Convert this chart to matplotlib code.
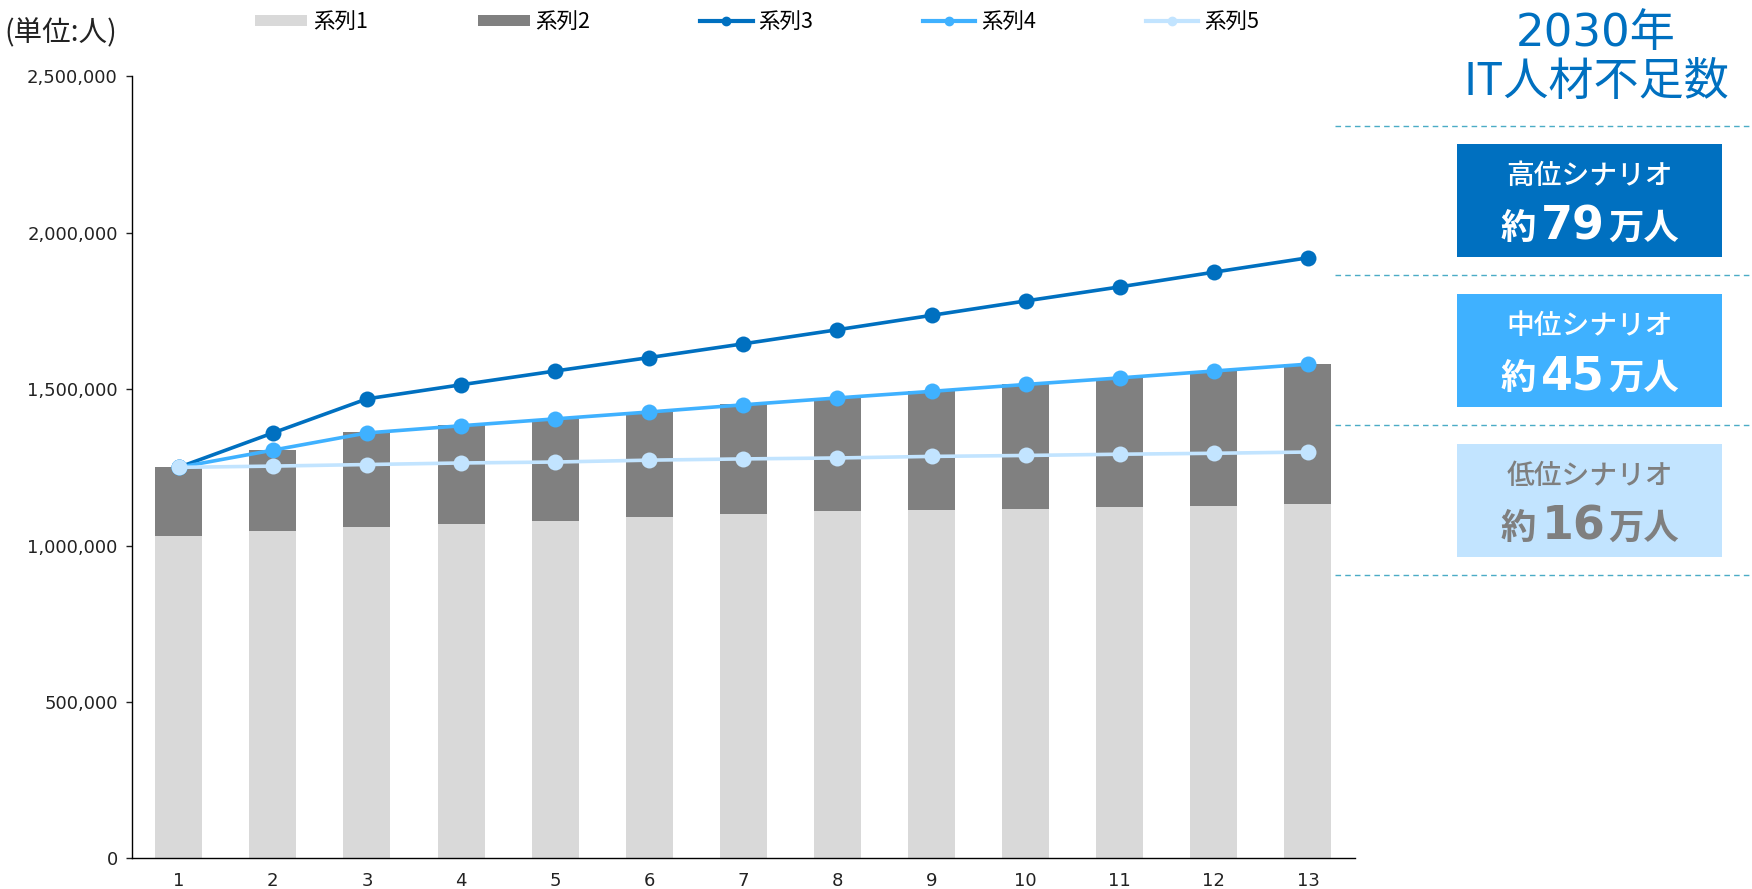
import matplotlib
matplotlib.use("Agg")
import matplotlib.pyplot as plt
from matplotlib.lines import Line2D
from matplotlib.patches import Patch, Rectangle
from matplotlib.ticker import FuncFormatter, MultipleLocator

# ---- data -------------------------------------------------------------
periods = list(range(1, 14))
series1 = [1030000, 1045000, 1060000, 1070000, 1080000, 1090000, 1100000,
           1110000, 1114000, 1117000, 1122000, 1127000, 1132000]
series2 = [220000, 260000, 302000, 314000, 325000, 337000, 352000,
           363000, 380000, 398000, 414000, 431000, 448000]
series3 = [1250000, 1360000, 1469000, 1514000, 1558000, 1601000, 1645000,
           1690000, 1736000, 1782000, 1827000, 1874000, 1920000]
series4 = [1250000, 1305000, 1360000, 1383000, 1405000, 1427000, 1450000,
           1472000, 1493000, 1515000, 1536000, 1558000, 1580000]
series5 = [1250000, 1254000, 1259000, 1264000, 1267000, 1273000, 1277000,
           1280000, 1285000, 1288000, 1292000, 1295000, 1299000]
series_names = ["系列1", "系列2", "系列3", "系列4", "系列5"]

scenario_names = ["高位シナリオ", "中位シナリオ", "低位シナリオ"]
scenario_shortage = [79, 45, 16]

# ---- styles -----------------------------------------------------------
C_BAR1 = "#D9D9D9"
C_BAR2 = "#808080"
C_HIGH = "#0070C0"
C_MID = "#3FB1FF"
C_LOW = "#C2E4FF"
JP = ["Noto Sans CJK JP", "DejaVu Sans"]
LATIN_JP = ["DejaVu Sans", "Noto Sans CJK JP"]

W, H = 1752, 889
fig = plt.figure(figsize=(W / 100, H / 100), dpi=100)
ax = fig.add_axes([131.7 / W, 1 - 858.3 / H, (1355 - 131.7) / W, (858.3 - 76.4) / H])

ax.bar(periods, series1, width=0.5, color=C_BAR1, zorder=1)
ax.bar(periods, series2, width=0.5, bottom=series1, color=C_BAR2, zorder=1)

line_kw = dict(lw=2.6, marker="o", markersize=11.5, markeredgewidth=0)
ax.plot(periods, series3, color=C_HIGH, zorder=3, **line_kw)
ax.plot(periods, series4, color=C_MID, zorder=4, **line_kw)
ax.plot(periods, series5, color=C_LOW, zorder=5, **line_kw)

ax.set_xlim(0.5, 13.5)
ax.set_ylim(0, 2500000)
ax.set_xticks(periods)
ax.yaxis.set_major_locator(MultipleLocator(500000))
ax.yaxis.set_major_formatter(FuncFormatter(lambda v, p: f"{int(v):,}"))
for s in ("top", "right"):
    ax.spines[s].set_visible(False)
for s in ("left", "bottom"):
    ax.spines[s].set_linewidth(1.0)
ax.tick_params(axis="y", length=4, width=1.0, pad=6, labelsize=13, colors="#222222")
ax.tick_params(axis="x", length=0, pad=10, labelsize=13, colors="#222222")
for lab in ax.get_xticklabels() + ax.get_yticklabels():
    lab.set_fontfamily("DejaVu Sans")

# ---- legend -----------------------------------------------------------
handles = [
    Patch(facecolor=C_BAR1, edgecolor="none"),
    Patch(facecolor=C_BAR2, edgecolor="none"),
    Line2D([], [], color=C_HIGH, lw=3, marker="o", markersize=6),
    Line2D([], [], color=C_MID, lw=3, marker="o", markersize=6),
    Line2D([], [], color=C_LOW, lw=3, marker="o", markersize=6),
]
fig.legend(handles, series_names, ncol=5, loc="center",
           bbox_to_anchor=(757 / W, 1 - 22 / H), frameon=False,
           prop={"family": JP, "size": 15.5}, handlelength=2.42,
           handleheight=0.43, handletextpad=0.28, columnspacing=5.1,
           borderaxespad=0, borderpad=0)

fig.text(4 / W, 1 - 33 / H, "(単位:人)", fontsize=20.5, family=JP,
         ha="left", va="center", color="#222222")

# ---- right-hand summary panel (pixel coordinates) --------------------
ov = fig.add_axes([0, 0, 1, 1], zorder=10)
ov.set_xlim(0, W)
ov.set_ylim(H, 0)
ov.axis("off")

ov.text(1596, 33, "2030年", fontsize=32.5, family=LATIN_JP, color=C_HIGH,
        ha="center", va="center")
ov.text(1596, 82, "IT人材不足数", fontsize=32.5, family=JP, color=C_HIGH,
        ha="center", va="center")

for yy in (126, 275, 425, 575):
    ov.plot([1335, W], [yy, yy], color="#4BACC6", lw=1.0,
            linestyle=(0, (4, 3)))

box_tops = [144, 294, 444]
box_fill = [C_HIGH, C_MID, C_LOW]
box_text = ["white", "white", "#7F7F7F"]
box_x0, box_x1, box_h = 1457, 1722, 113

fig.canvas.draw()
renderer = fig.canvas.get_renderer()


def centered_parts(cx, baseline, parts, color):
    """Place text pieces of mixed size on a shared baseline, centred on cx."""
    arts = []
    for s, size, fam in parts:
        t = ov.text(0, baseline, s, fontsize=size, family=fam, weight="bold",
                    color=color, ha="left", va="baseline")
        arts.append(t)
    widths = [a.get_window_extent(renderer).width for a in arts]
    gaps = [6, 3, 0]
    total = sum(widths) + sum(gaps)
    x = cx - total / 2
    for a, w, g in zip(arts, widths, gaps):
        a.set_x(x)
        x += w + g


for name, num, top, fc, tc in zip(scenario_names, scenario_shortage,
                                  box_tops, box_fill, box_text):
    ov.add_patch(Rectangle((box_x0, top), box_x1 - box_x0, box_h,
                           facecolor=fc, edgecolor="none"))
    cx = (box_x0 + box_x1) / 2
    ov.text(cx, top + 31, name, fontsize=20, family=JP, weight="medium",
            color=tc, ha="center", va="center")
    centered_parts(cx, top + 95,
                   [("約", 25.5, JP), (str(num), 33, LATIN_JP), ("万人", 25.5, JP)], tc)

fig.savefig("out.png", dpi=100)
